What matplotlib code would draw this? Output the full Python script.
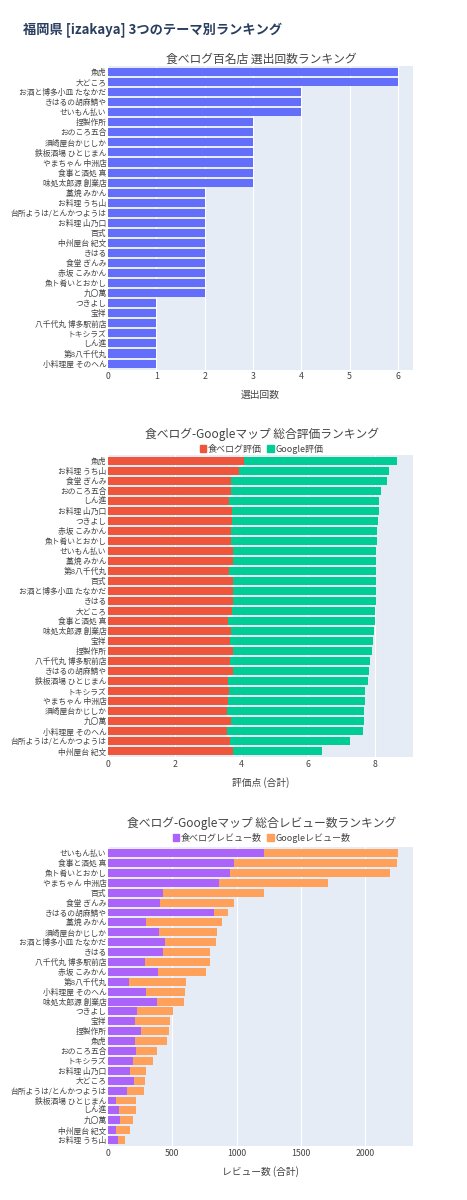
import matplotlib
matplotlib.use("Agg")
import matplotlib.pyplot as plt
from matplotlib.patches import Patch

plt.rcParams['font.family'] = ['Noto Sans CJK JP', 'DejaVu Sans']

names1 = ["魚虎","大どころ","お酒と博多小皿 たなかだ","きはるの胡麻鯖や","せいもん払い","捏製作所","おのころ五合","須崎屋台かじしか","鉄板酒場 ひとじまん","やまちゃん 中洲店","食事と酒処 真","味処太郎源 創業店","藁焼 みかん","お料理 うち山","台所ようは/とんかつようは","お料理 山乃口","百式","中州屋台 紀文","きはる","食堂 ぎんみ","赤坂 こみかん","魚ト肴いとおかし","九〇萬","つきよし","宝祥","八千代丸 博多駅前店","トキシラズ","しん進","第8八千代丸","小料理屋 そのへん"]
counts = [6,6,4,4,4,3,3,3,3,3,3,3,2,2,2,2,2,2,2,2,2,2,2,1,1,1,1,1,1,1]

names2 = ["魚虎","お料理 うち山","食堂 ぎんみ","おのころ五合","しん進","お料理 山乃口","つきよし","赤坂 こみかん","魚ト肴いとおかし","せいもん払い","藁焼 みかん","第8八千代丸","百式","お酒と博多小皿 たなかだ","きはる","大どころ","食事と酒処 真","味処太郎源 創業店","宝祥","捏製作所","八千代丸 博多駅前店","きはるの胡麻鯖や","鉄板酒場 ひとじまん","トキシラズ","やまちゃん 中洲店","須崎屋台かじしか","九〇萬","小料理屋 そのへん","台所ようは/とんかつようは","中州屋台 紀文"]
tabelog_score = [4.08,3.93,3.69,3.69,3.64,3.72,3.72,3.69,3.69,3.76,3.76,3.64,3.75,3.75,3.75,3.72,3.61,3.69,3.65,3.75,3.66,3.75,3.61,3.63,3.61,3.58,3.68,3.56,3.66,3.75]
google_score = [4.59,4.49,4.68,4.50,4.49,4.40,4.38,4.39,4.38,4.29,4.28,4.39,4.28,4.28,4.28,4.30,4.39,4.29,4.29,4.18,4.20,4.08,4.19,4.09,4.09,4.09,3.99,4.10,3.60,2.67]

names3 = ["せいもん払い","食事と酒処 真","魚ト肴いとおかし","やまちゃん 中洲店","百式","食堂 ぎんみ","きはるの胡麻鯖や","藁焼 みかん","須崎屋台かじしか","お酒と博多小皿 たなかだ","きはる","八千代丸 博多駅前店","赤坂 こみかん","第8八千代丸","小料理屋 そのへん","味処太郎源 創業店","つきよし","宝祥","捏製作所","魚虎","おのころ五合","トキシラズ","お料理 山乃口","大どころ","台所ようは/とんかつようは","鉄板酒場 ひとじまん","しん進","九〇萬","中州屋台 紀文","お料理 うち山"]
tabelog_reviews = [1213,979,946,865,427,404,821,295,396,443,427,285,389,161,300,378,223,212,256,207,218,194,171,200,145,65,86,96,65,78]
google_reviews = [1041,1270,1243,842,786,575,114,594,451,396,368,510,373,448,301,210,285,272,218,249,165,156,124,85,132,153,129,98,109,52]

BG = "#E5ECF6"
TXT = '#444444'
fig = plt.figure(figsize=(4.67, 12), dpi=100)
fig.text(0.05, 0.975, "福岡県 [izakaya] 3つのテーマ別ランキング", fontsize=9.5, fontweight='bold', color='#2a3f5f', va='center')

def style(ax, xlabel, xlim, ticks):
    ax.set_facecolor(BG)
    for s in ax.spines.values():
        s.set_visible(False)
    ax.set_axisbelow(True)
    ax.grid(axis='x', color='white', lw=0.8)
    ax.set_xlim(*xlim)
    ax.set_xticks(ticks)
    ax.tick_params(length=0, labelsize=6.3, colors=TXT, pad=2)
    ax.tick_params(axis='y', labelsize=5.6, pad=1)
    ax.set_xlabel(xlabel, fontsize=7, color=TXT, labelpad=6)
    ax.set_ylim(29.6, -0.6)

ax1 = fig.add_axes([0.231, 0.692, 0.653, 0.253])
ax1.barh(range(len(names1)), counts, height=0.8, color="#636EFA")
ax1.set_yticks(range(len(names1)), names1)
style(ax1, "選出回数", (0, 6.31), range(0, 7))
fig.text(0.56, 0.951, "食べログ百名店 選出回数ランキング", fontsize=8.5, color=TXT, ha='center', va='center')

ax2 = fig.add_axes([0.231, 0.369, 0.653, 0.252])
y = range(len(names2))
ax2.barh(y, tabelog_score, height=0.8, color="#EF553B")
ax2.barh(y, google_score, left=tabelog_score, height=0.8, color="#00CC96")
ax2.set_yticks(y, names2)
style(ax2, "評価点 (合計)", (0, 9.14), [0, 2, 4, 6, 8])
fig.text(0.56, 0.638, "食べログ-Googleマップ 総合評価ランキング", fontsize=8.5, color=TXT, ha='center', va='center')
fig.legend(handles=[Patch(color="#EF553B", label="食べログ評価"), Patch(color="#00CC96", label="Google評価")],
           loc='center', bbox_to_anchor=(0.56, 0.626), ncol=2, frameon=False, fontsize=6.5,
           handlelength=0.7, handleheight=0.7, handletextpad=0.2, columnspacing=0.6, labelcolor=TXT)

ax3 = fig.add_axes([0.231, 0.045, 0.653, 0.249])
y = range(len(names3))
ax3.barh(y, tabelog_reviews, height=0.8, color="#AB63FA")
ax3.barh(y, google_reviews, left=tabelog_reviews, height=0.8, color="#FFA15A")
ax3.set_yticks(y, names3)
style(ax3, "レビュー数 (合計)", (0, 2370), [0, 500, 1000, 1500, 2000])
fig.text(0.56, 0.314, "食べログ-Googleマップ 総合レビュー数ランキング", fontsize=8.5, color=TXT, ha='center', va='center')
fig.legend(handles=[Patch(color="#AB63FA", label="食べログレビュー数"), Patch(color="#FFA15A", label="Googleレビュー数")],
           loc='center', bbox_to_anchor=(0.56, 0.302), ncol=2, frameon=False, fontsize=6.5,
           handlelength=0.7, handleheight=0.7, handletextpad=0.2, columnspacing=0.6, labelcolor=TXT)

fig.savefig("out.png", dpi=100)
